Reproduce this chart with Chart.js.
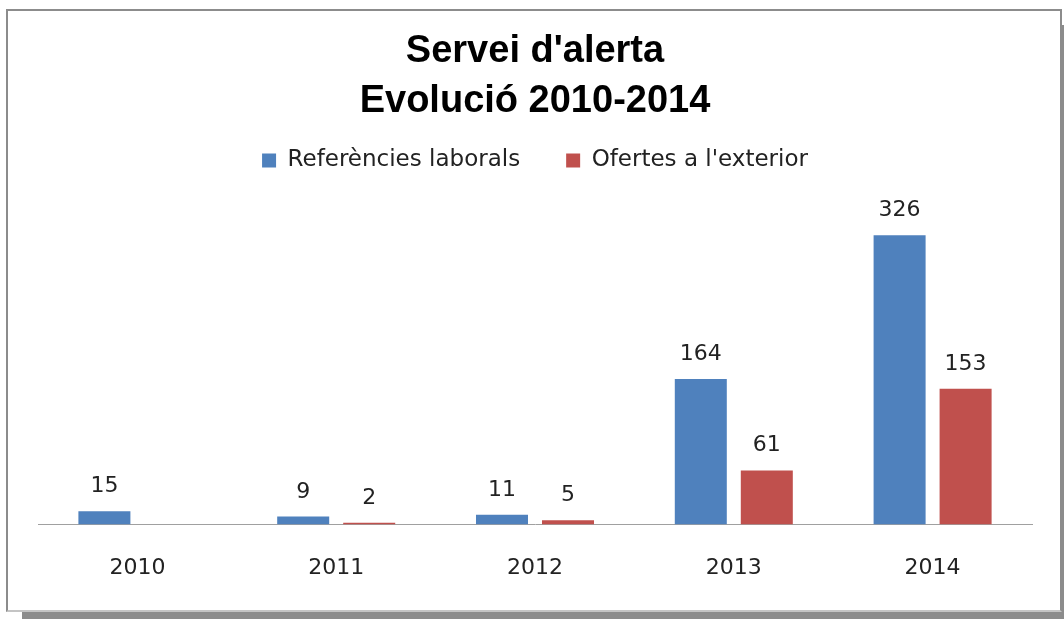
<!DOCTYPE html>
<html>
<head>
<meta charset="utf-8">
<script src="https://cdn.jsdelivr.net/npm/chart.js@4/dist/chart.umd.min.js"></script>
<style>
    body { margin: 0; background: #fff; }
    .frame {
        position: absolute; left: 6px; top: 9px; width: 1056px; height: 603px;
        box-sizing: border-box; background: #fff;
        border: 2px solid #8c8c8c; border-bottom-color: #c4c4c4;
        box-shadow: 16px 16px 0 #8c8c8c;
    }
    canvas { position: absolute; left: 0; top: 0; }
</style>
</head>
<body>
<div class='frame'></div>
<canvas id="alertChart" width="1064" height="619"></canvas>
<script>
const years = ["2010", "2011", "2012", "2013", "2014"];
const referencies = [15, 9, 11, 164, 326];
const ofertes = [null, 2, 5, 61, 153];
const seriesNames = ["Referències laborals", "Ofertes a l'exterior"];
const titleLines = ["Servei d'alerta", "Evolució 2010-2014"];

const textFont = "'DejaVu Sans', sans-serif";

// values above each bar
const barLabels = {
    id: 'barLabels',
    afterDatasetsDraw(chart) {
        const ctx = chart.ctx;
        ctx.save();
        ctx.font = "22px " + textFont;
        ctx.fillStyle = "#222";
        ctx.textAlign = "center";
        ctx.textBaseline = "alphabetic";
        chart.data.datasets.forEach(function(ds, i) {
            chart.getDatasetMeta(i).data.forEach(function(bar, j) {
                if (ds.data[j] == null) return;
                ctx.fillText(String(ds.data[j]), bar.x, bar.y - 19);
            });
        });
        ctx.restore();
    }
};

new Chart(document.getElementById("alertChart"), {
    type: "bar",
    data: {
        labels: years,
        datasets: [
            { label: seriesNames[0], data: referencies, backgroundColor: "#4f81bd" },
            { label: seriesNames[1], data: ofertes, backgroundColor: "#c0504d" }
        ]
    },
    options: {
        responsive: false,
        animation: false,
        categoryPercentage: 0.664,
        barPercentage: 0.788,
        layout: { padding: { top: 27, left: 38, right: 32, bottom: 8 } },
        plugins: {
            title: {
                display: true,
                text: titleLines,
                color: "#000",
                font: { family: "'Liberation Sans', Arial, sans-serif", size: 38, weight: "bold", lineHeight: 50 / 38 },
                padding: { top: 0, bottom: -24 }
            },
            legend: {
                display: true,
                labels: {
                    color: "#222",
                    font: { family: textFont, size: 23 },
                    boxWidth: 14,
                    boxHeight: 14,
                    padding: 46
                }
            },
            tooltip: { enabled: false }
        },
        scales: {
            x: {
                grid: { display: false, drawTicks: false },
                border: { display: true, color: "#a0a0a0", width: 1 },
                ticks: { color: "#222", font: { family: textFont, size: 22 }, padding: 30 }
            },
            y: {
                display: false,
                min: 0,
                max: 386
            }
        }
    },
    plugins: [barLabels]
});
</script>
</body>
</html>
